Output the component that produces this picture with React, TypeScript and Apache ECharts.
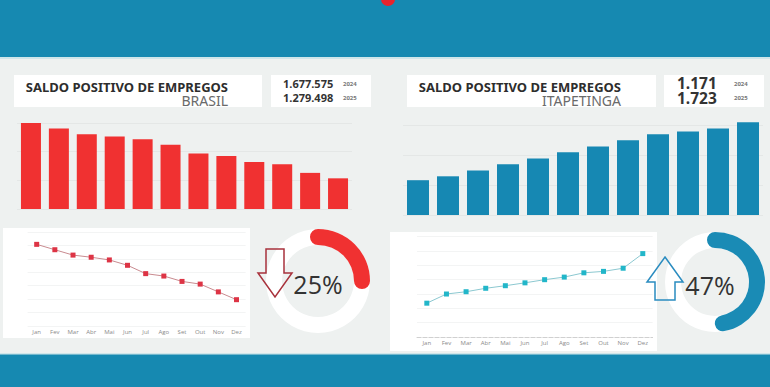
import React, { useEffect, useRef } from "react";
import * as echarts from "echarts";

const months = ["Jan", "Fev", "Mar", "Abr", "Mai", "Jun", "Jul", "Ago", "Set", "Out", "Nov", "Dez"];
const brasilBars = [300, 281, 261, 253, 243, 224, 194, 185, 164, 156, 126, 107];
const itaBars = [116, 129, 148, 169, 188, 209, 228, 249, 269, 278, 288, 309];
const brasilLine = [304, 284, 264, 256, 246, 226, 195, 186, 166, 156, 127, 98];
const itaLine = [118, 150, 158, 170, 179, 189, 200, 209, 224, 229, 240, 291];
const brasilTotals = ["1.677.575", "1.279.498"];
const itaTotals = ["1.171", "1.723"];
const years = ["2024", "2025"];
const brasilPct = 25;
const itaPct = 47;
const titleText = "SALDO POSITIVO DE EMPREGOS";
const brasilName = "BRASIL";
const itaName = "ITAPETINGA";

const BLUE = "#1689b1";
const BG = "#eef1f0";
const RED = "#f03131";

function txt(x: number, y: number, text: string, font: string, fill: string, align = "left", lh = 12, z = 20) {
  return {
    type: "text",
    x,
    y,
    z,
    style: {
      text,
      font,
      fill,
      lineHeight: lh,
      textAlign: align,
      align,
      textVerticalAlign: "middle",
      verticalAlign: "middle",
    },
  };
}

function titleBlock(xRight: number, name: string) {
  return {
    type: "text",
    x: xRight,
    y: 93.5,
    z: 20,
    style: {
      text: "{t|" + titleText + "}\n{n|" + name + "}",
      textAlign: "right",
      align: "right",
      textVerticalAlign: "middle",
      verticalAlign: "middle",
      rich: {
        t: { font: 'bold 13px "Noto Sans"', fill: "#2d2d2d", lineHeight: 14 },
        n: { font: '14px "Noto Sans"', fill: "#6a6a6a", lineHeight: 14 },
      },
    },
  };
}

function rect(x: number, y: number, w: number, h: number, fill: string, z = 0) {
  return { type: "rect", x, y, z, shape: { x: 0, y: 0, width: w, height: h }, style: { fill } };
}

export default function App() {
  const ref = useRef<HTMLDivElement>(null);
  useEffect(() => {
    const chart = echarts.init(ref.current!, null, { renderer: "svg" });
    const barX = (i: number) => ({
      type: "category",
      gridIndex: i,
      data: months,
      axisLine: { show: false },
      axisTick: { show: false },
      axisLabel: { show: false },
    });
    const barY = (i: number) => ({
      type: "value",
      gridIndex: i,
      min: 0,
      max: 300,
      interval: 100,
      axisLabel: { show: false },
      axisLine: { show: false },
      axisTick: { show: false },
      splitLine: { lineStyle: { color: "#e4e7e6", width: 1 } },
    });
    const lineX = (i: number, axisLine: any) => ({
      type: "category",
      gridIndex: i,
      data: months,
      axisLine,
      axisTick: { show: false },
      axisLabel: { fontSize: 6, color: "#8a8a8a", margin: 3, interval: 0, fontFamily: "Open Sans" },
    });
    const lineY = (i: number) => ({
      type: "value",
      gridIndex: i,
      min: 0,
      max: 350,
      interval: 50,
      axisLabel: { show: false },
      axisLine: { show: false },
      axisTick: { show: false },
      splitLine: { lineStyle: { color: "#f3f4f4", width: 1 } },
    });
    const gauge = (center: number[], radius: number, value: number, color: string, offset: number[]) => ({
      type: "gauge",
      center,
      radius,
      startAngle: 90,
      endAngle: -270,
      min: 0,
      max: 100,
      pointer: { show: false },
      progress: { show: true, roundCap: true, width: 16, itemStyle: { color } },
      axisLine: { lineStyle: { width: 16, color: [[1, "#ffffff"]] } },
      splitLine: { show: false },
      axisTick: { show: false },
      axisLabel: { show: false },
      title: { show: false },
      detail: {
        formatter: "{value}%",
        offsetCenter: offset,
        fontSize: 25,
        fontWeight: "normal",
        color: "#333333",
        fontFamily: "Open Sans",
      },
      data: [{ value }],
      z: 3,
    });

    const option: any = {
      animation: false,
      backgroundColor: BG,
      graphic: [
        rect(0, 0, 770, 57, BLUE, 0),
        rect(0, 57, 770, 2, "#cfe6ea", 0),
        { type: "circle", z: 1, shape: { cx: 388, cy: -1, r: 7 }, style: { fill: "#e8242c" } },
        rect(0, 354, 770, 33, BLUE, 0),
        rect(0, 353, 770, 1.5, "#cfe6ea", 0),
        rect(14, 75, 248, 32, "#ffffff", 0),
        rect(271, 75, 100, 32, "#ffffff", 0),
        rect(407, 75, 249, 32, "#ffffff", 0),
        rect(664, 75, 100, 32, "#ffffff", 0),
        rect(3, 228, 247, 110, "#ffffff", 0),
        rect(390, 232, 267, 119, "#ffffff", 0),
        titleBlock(228, brasilName),
        txt(283, 83.5, brasilTotals[0], 'bold 11px "Noto Sans"', "#333333", "left", 11),
        txt(283, 97.5, brasilTotals[1], 'bold 11px "Noto Sans"', "#333333", "left", 11),
        txt(343, 84, years[0], 'bold 6px "Noto Sans"', "#777777", "left", 7),
        txt(343, 98, years[1], 'bold 6px "Noto Sans"', "#777777", "left", 7),
        titleBlock(621, itaName),
        txt(677, 90.5, itaTotals[0] + "\n" + itaTotals[1], 'bold 15.5px "Noto Sans"', "#333333", "left", 15.5),
        txt(734, 84, years[0], 'bold 6px "Noto Sans"', "#777777", "left", 7),
        txt(734, 98, years[1], 'bold 6px "Noto Sans"', "#777777", "left", 7),
        {
          type: "polygon",
          z: 50,
          shape: {
            points: [
              [266, 249],
              [284, 249],
              [284, 273],
              [292, 273],
              [275, 297],
              [258, 273],
              [266, 273],
            ],
          },
          style: { fill: "none", stroke: "#a8323c", lineWidth: 1.5 },
        },
        {
          type: "polygon",
          z: 50,
          shape: {
            points: [
              [665, 257],
              [683, 282],
              [675, 282],
              [675, 300],
              [655, 300],
              [655, 282],
              [647, 282],
            ],
          },
          style: { fill: "none", stroke: "#2a8cc0", lineWidth: 1.5 },
        },
      ],
      grid: [
        { left: 17, top: 123, width: 335, height: 86 },
        { left: 403, top: 125, width: 360, height: 90 },
        { left: 27.6, top: 232, width: 218, height: 94 },
        { left: 417, top: 236.7, width: 235.6, height: 100.3 },
      ],
      xAxis: [
        barX(0),
        barX(1),
        lineX(2, { show: false }),
        lineX(3, { show: true, lineStyle: { color: "#d0d0d0", type: "dashed", width: 1 } }),
      ],
      yAxis: [barY(0), barY(1), lineY(2), lineY(3)],
      series: [
        {
          type: "bar",
          xAxisIndex: 0,
          yAxisIndex: 0,
          data: brasilBars,
          barWidth: 20,
          itemStyle: { color: RED },
          clip: false,
        },
        {
          type: "bar",
          xAxisIndex: 1,
          yAxisIndex: 1,
          data: itaBars,
          barWidth: 22,
          itemStyle: { color: "#1688b3" },
          clip: false,
        },
        {
          type: "line",
          xAxisIndex: 2,
          yAxisIndex: 2,
          data: brasilLine,
          symbol: "rect",
          symbolSize: 5,
          lineStyle: { color: "#c98b90", width: 1 },
          itemStyle: { color: "#dd3445" },
        },
        {
          type: "line",
          xAxisIndex: 3,
          yAxisIndex: 3,
          data: itaLine,
          symbol: "rect",
          symbolSize: 5,
          lineStyle: { color: "#8cc8d0", width: 1 },
          itemStyle: { color: "#22b6c9" },
        },
        gauge([318, 281], 52, brasilPct, RED, [0, 3]),
        gauge([715, 282], 50, itaPct, "#1a8bb5", [-5, 3]),
      ],
    };
    chart.setOption(option);
    return () => chart.dispose();
  }, []);
  return (
    <div
      ref={ref}
      style={{ position: "fixed", left: 0, top: 0, width: 770, height: 387 }}
    />
  );
}
